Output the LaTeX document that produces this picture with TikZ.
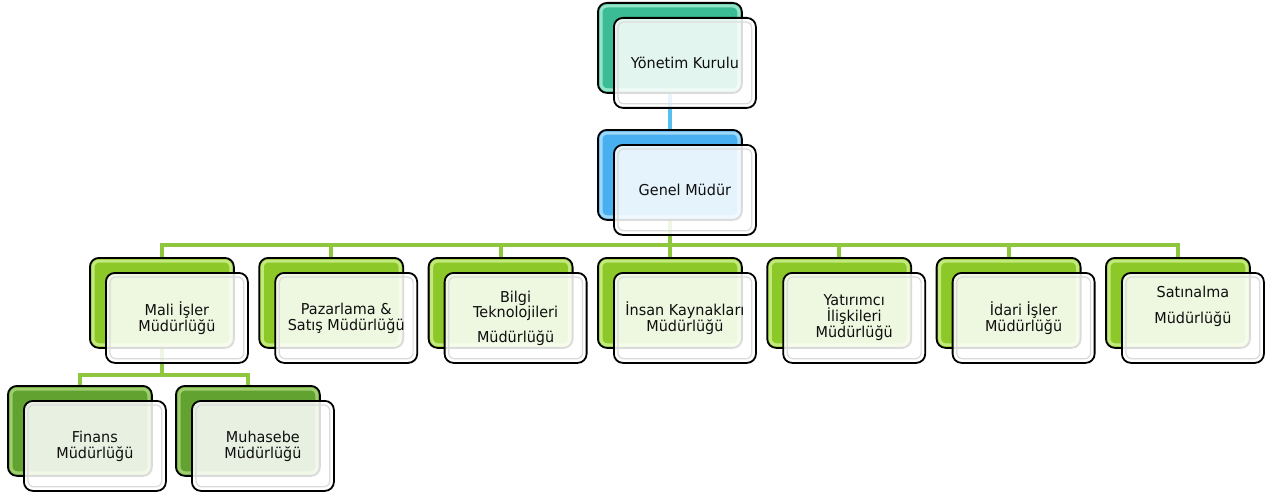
\documentclass[tikz,border=0pt]{standalone}
\usepackage{fontspec}
\setmainfont{DejaVu Sans}[FakeStretch=0.96]
\usetikzlibrary{calc}
\pgfdeclarelayer{bg}
\pgfsetlayers{bg,main}
\definecolor{tealB}{RGB}{60,188,148}
\definecolor{tealL}{RGB}{165,236,212}
\definecolor{blueB}{RGB}{72,176,240}
\definecolor{blueL}{RGB}{175,222,250}
\definecolor{limeB}{RGB}{140,200,40}
\definecolor{limeL}{RGB}{205,238,140}
\definecolor{leafB}{RGB}{98,162,48}
\definecolor{leafL}{RGB}{170,214,120}
\definecolor{lineG}{RGB}{142,198,62}
\definecolor{lineB}{RGB}{88,192,240}
\definecolor{txt}{RGB}{15,15,15}
\tikzset{
  backbox/.style={draw=black, line width=1.8pt, rounded corners=9pt,
    minimum width=144pt, minimum height=90pt, anchor=north west, inner sep=0pt},
  frontbox/.style={draw=black, line width=1.8pt, rounded corners=9pt,
    fill=white, fill opacity=0.86, text opacity=1, text=txt,
    minimum width=142pt, minimum height=90pt, anchor=north west, inner sep=2pt,
    align=center, font=\fontsize{15}{16}\selectfont},
  bevel/.style={line width=3pt, rounded corners=6pt, opacity=0.85},
  innerhl/.style={draw=black!14, line width=1.2pt, rounded corners=6pt},
  conn/.style={line width=4pt, line join=miter},
}
\newcommand\orgBox[6]{%
  \node[backbox, fill=#4] (#1B) at (#2,#3) {};
  \draw[bevel, #5] ([shift={(4,4)}]#1B.north west) rectangle ([shift={(-4,-4)}]#1B.south east);
  \node[frontbox] (#1) at ($(#2,#3)+(16,15)$) {#6};
  \draw[innerhl] ([shift={(5,5)}]#1.north west) rectangle ([shift={(-5,-5)}]#1.south east);
}
\begin{document}
\begin{tikzpicture}[x=1pt,y=-1pt]
\useasboundingbox (0,0) rectangle (1270,495);
\orgBox{yk}{597}{2}{tealB}{tealL}{Yönetim Kurulu}
\orgBox{gm}{597}{129}{blueB}{blueL}{Genel Müdür}
\orgBox{mali}{89}{257}{limeB}{limeL}{Mali İşler\\Müdürlüğü}
\orgBox{paz}{258.3}{257}{limeB}{limeL}{Pazarlama \&\\Satış Müdürlüğü}
\orgBox{bilgi}{427.7}{257}{limeB}{limeL}{Bilgi\\[-1pt]Teknolojileri\\[9pt]Müdürlüğü}
\orgBox{ik}{597}{257}{limeB}{limeL}{İnsan Kaynakları\\Müdürlüğü}
\orgBox{yat}{766.3}{257}{limeB}{limeL}{Yatırımcı\\İlişkileri\\Müdürlüğü}
\orgBox{idari}{935.7}{257}{limeB}{limeL}{İdari İşler\\Müdürlüğü}
\orgBox{sat}{1105}{257}{limeB}{limeL}{Satınalma\\[10pt]Müdürlüğü\\[10pt]~}
\orgBox{fin}{7}{385}{leafB}{leafL}{Finans\\Müdürlüğü}
\orgBox{muh}{175}{385}{leafB}{leafL}{Muhasebe\\Müdürlüğü}
\coordinate (bus) at (0,245);
\coordinate (bus2) at (0,374.5);
\begin{pgfonlayer}{bg}
\draw[conn, lineB] (ykB.south) -- (gmB.north);
\draw[conn, lineG] (gmB.south) -- (gmB.south |- bus);
\draw[conn, lineG] (maliB.north) -- (maliB.north |- bus) -- (satB.north |- bus) -- (satB.north);
\foreach \n in {paz,bilgi,ik,yat,idari}
  \draw[conn, lineG] (\n B.north) -- (\n B.north |- bus);
\draw[conn, lineG] (maliB.south) -- (maliB.south |- bus2);
\draw[conn, lineG] (finB.north) -- (finB.north |- bus2) -- (muhB.north |- bus2) -- (muhB.north);
\end{pgfonlayer}
\end{tikzpicture}
\end{document}
